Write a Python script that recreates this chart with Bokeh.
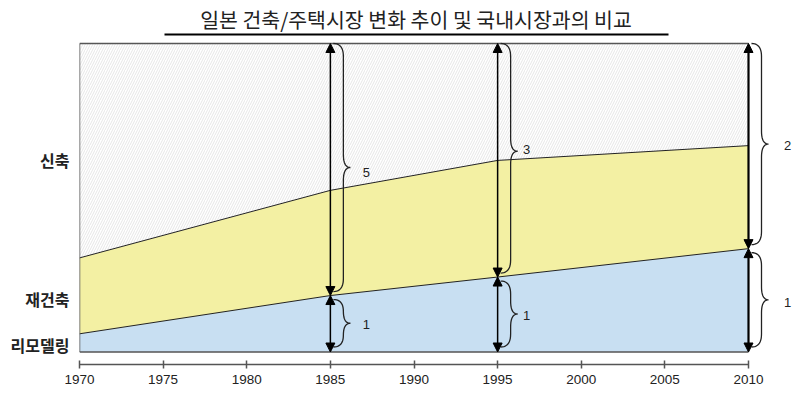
import numpy as np
from bokeh.plotting import figure
from bokeh.models import Range1d, FixedTicker, Arrow, NormalHead
from bokeh.core.properties import value
from bokeh.embed import file_html
from bokeh.resources import INLINE

# ---------------- data ----------------
title_text = "일본 건축/주택시장 변화 추이 및 국내시장과의 비교"
years = [1970, 1985, 1995, 2010]
remodel = [5.9, 18.3, 24.3, 33.5]      # 리모델링 share
rebuild = [24.6, 34.1, 37.8, 33.4]     # 재건축 share
newbuild = [69.5, 47.6, 37.9, 33.1]    # 신축 share
segment_names = ["리모델링", "재건축", "신축"]
segment_label_pos = [2.3, 17.2, 62.3]
marker_years = [1985, 1995, 2010]
upper_ratio = ["5", "3", "2"]
lower_ratio = ["1", "1", "1"]
x_ticks = [1970, 1975, 1980, 1985, 1990, 1995, 2000, 2005, 2010]

# ---------------- geometry (pixels in figure) ----------------
W, H = 797, 393
FL, FB = 79, 364          # frame left / bottom
X0PX, X1PX = 79.0, 748.0  # 1970 / 2010
Y0PX, Y100PX = 351.5, 43.0
sx = (X1PX - X0PX) / (x_ticks[-1] - x_ticks[0])
sy = (Y0PX - Y100PX) / 100.0

def X(px):
    return x_ticks[0] + (px - X0PX) / sx

def Y(py):
    return 100.0 + (Y100PX - py) / sy

def xpx(x):
    return X0PX + (x - x_ticks[0]) * sx

def ypx(y):
    return Y100PX + (100.0 - y) * sy

base = np.array(remodel)
mid = base + np.array(rebuild)
top = mid + np.array(newbuild)
zero = np.zeros(len(years))

p = figure(width=W, height=H, output_backend="svg", toolbar_location=None,
           x_range=Range1d(X(FL), X(W)), y_range=Range1d(Y(FB), Y(0)),
           min_border_left=FL, min_border_right=0, min_border_top=0,
           min_border_bottom=H - FB, title=None)
p.outline_line_color = None
p.xgrid.visible = False
p.ygrid.visible = False
p.background_fill_color = "white"
p.border_fill_color = "white"

# stacked areas
p.varea(x=years, y1=zero, y2=base, fill_color="#c8dff2")
p.varea(x=years, y1=base, y2=mid, fill_color="#f3f0a3")
p.varea(x=years, y1=mid, y2=top, fill_color="white",
        hatch_pattern="/", hatch_color="#e0e0e0", hatch_scale=5, hatch_weight=0.8)

# boundaries & frame lines
p.line(x=years, y=base, line_color="#222222", line_width=1)
p.line(x=years, y=mid, line_color="#222222", line_width=1)
p.line(x=years, y=top, line_color="#555555", line_width=1.5)
p.line(x=years, y=zero, line_color="#555555", line_width=1.5)
p.line(x=[years[0], years[0]], y=[0, top[0]], line_color="#555555", line_width=1.5)

# arrows
for i, yr in enumerate(marker_years):
    k = years.index(yr)
    v = base[k]
    lw = 2.2 if yr == years[-1] else 1.5
    for (ys, ye) in [(v, top[k]), (zero[k], v)]:
        p.add_layout(Arrow(x_start=yr, y_start=ys, x_end=yr, y_end=ye,
                           line_color="black", line_width=lw,
                           start=NormalHead(size=9, fill_color="black", line_color="black", line_width=1),
                           end=NormalHead(size=9, fill_color="black", line_color="black", line_width=1)))

# braces
def brace(x_year, y_hi, y_lo, a, b, c, tip_shift=0.0):
    ax = xpx(x_year) + a
    bx = xpx(x_year) + b
    cx = xpx(x_year) + c
    t = ypx(y_hi)
    bt = ypx(y_lo)
    m = (t + bt) / 2 + tip_shift
    r = min(13.0, (bt - t) / 4)
    s = np.linspace(0, 1, 12)

    def quad(p0, p1, p2):
        xs = (1 - s) ** 2 * p0[0] + 2 * (1 - s) * s * p1[0] + s ** 2 * p2[0]
        ys = (1 - s) ** 2 * p0[1] + 2 * (1 - s) * s * p1[1] + s ** 2 * p2[1]
        return list(xs), list(ys)

    px_, py_ = [], []
    for seg in [quad((ax, t), (bx, t), (bx, t + r)),
                quad((bx, m - r), (bx, m), (cx, m)),
                quad((cx, m), (bx, m), (bx, m + r)),
                quad((bx, bt - r), (bx, bt), (ax, bt))]:
        px_ += seg[0]
        py_ += seg[1]
    return [X(v) for v in px_], [Y(v) for v in py_], m

label_dx = {1985: 36, 1995: 29, 2010: 39}
upper_tip_shift = {1985: 0, 1995: -7, 2010: 0}
upper_label_dy = {1985: 5, 1995: -2, 2010: 1}
lower_label_dy = {1985: 1, 1995: 1.5, 2010: 2.5}
for i, yr in enumerate(marker_years):
    k = years.index(yr)
    v = base[k]
    # upper brace: from top to just above the boundary
    bxs, bys, m = brace(yr, top[k], Y(ypx(v) - 4), 3, 13, 20, upper_tip_shift[yr])
    p.line(x=bxs, y=bys, line_color="#222222", line_width=1.3)
    p.text(x=[X(xpx(yr) + label_dx[yr])], y=[Y(m + upper_label_dy[yr])], text=[upper_ratio[i]],
           text_font=value("Liberation Sans"), text_font_size="13px",
           text_color="#222222", text_align="center", text_baseline="middle")
    # lower brace
    bxs, bys, m = brace(yr, Y(ypx(v) + 4), Y(ypx(0) - 5), 3, 13, 20)
    p.line(x=bxs, y=bys, line_color="#222222", line_width=1.3)
    p.text(x=[X(xpx(yr) + label_dx[yr])], y=[Y(m + lower_label_dy[yr])], text=[lower_ratio[i]],
           text_font=value("Liberation Sans"), text_font_size="13px",
           text_color="#222222", text_align="center", text_baseline="middle")

# title + underline
p.text(x=[X(415.5)], y=[Y(18)], text=[title_text],
       text_font=value("Noto Sans CJK KR"), text_font_size="20.5px",
       text_color="#222222", text_align="center", text_baseline="middle")
p.line(x=[X(164), X(668)], y=[Y(34), Y(34)], line_color="black", line_width=2)

# x axis
xa = p.xaxis[0]
xa.ticker = FixedTicker(ticks=x_ticks)
xa.bounds = (x_ticks[0], x_ticks[-1])
xa.axis_line_color = "#555555"
xa.axis_line_width = 1.5
xa.major_tick_line_color = "#555555"
xa.major_tick_line_width = 1.5
xa.major_tick_in = 4
xa.major_tick_out = 4
xa.minor_tick_line_color = None
xa.major_label_standoff = 6
xa.major_label_text_font = "Liberation Sans"
xa.major_label_text_font_size = "13.5px"
xa.major_label_text_color = "#222222"

# y axis (category labels)
ya = p.yaxis[0]
ya.ticker = FixedTicker(ticks=segment_label_pos)
ya.major_label_overrides = {pos: name for pos, name in zip(segment_label_pos, segment_names)}
ya.axis_line_color = None
ya.major_tick_line_color = None
ya.minor_tick_line_color = None
ya.major_tick_out = 0
ya.major_tick_in = 0
ya.major_label_standoff = 10
ya.major_label_text_font = "Noto Sans CJK KR"
ya.major_label_text_font_size = "16px"
ya.major_label_text_font_style = "bold"
ya.major_label_text_color = "#222222"

open("out.html", "w").write(file_html(p, INLINE))
